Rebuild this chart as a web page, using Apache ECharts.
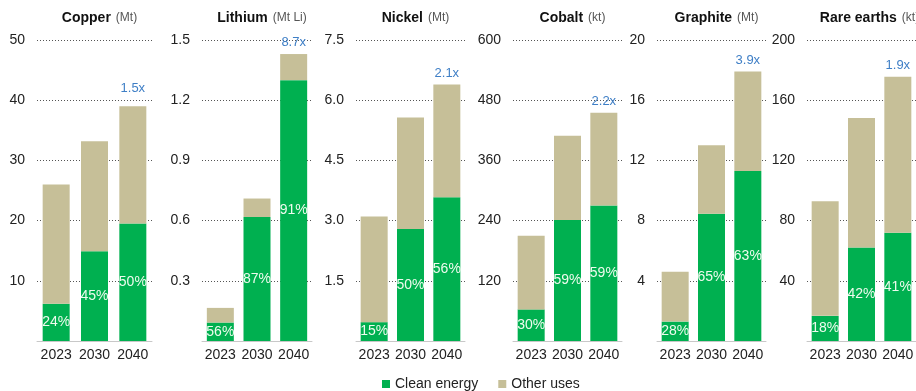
<!DOCTYPE html>
<html>
<head>
<meta charset="utf-8">
<script src="https://cdn.jsdelivr.net/npm/echarts@6/dist/echarts.min.js"></script>
<style>
  html, body { margin: 0; padding: 0; background: #ffffff; }
  #chart { width: 916px; height: 391px; }
</style>
</head>
<body>
<div id="chart"></div>
<script>
// Demand by end use for key energy-transition minerals
const years = ['2023', '2030', '2040'];
const minerals = ['Copper', 'Lithium', 'Nickel', 'Cobalt', 'Graphite', 'Rare earths'];
const units = ['(Mt)', '(Mt Li)', '(Mt)', '(kt)', '(Mt)', '(kt)'];

const cleanEnergy = [
  [6.2, 14.9, 19.5],
  [0.092, 0.618, 1.30],
  [0.47, 2.79, 3.58],
  [63, 241, 270],
  [1.29, 8.45, 11.3],
  [16.7, 62.2, 72.0]
];
const otherUses = [
  [19.8, 18.3, 19.5],
  [0.073, 0.092, 0.13],
  [2.63, 2.78, 2.81],
  [147, 168, 185],
  [3.31, 4.55, 6.6],
  [76.1, 86.0, 103.6]
];
const shareLabels = [
  ['24%', '45%', '50%'],
  ['56%', '87%', '91%'],
  ['15%', '50%', '56%'],
  ['30%', '59%', '59%'],
  ['28%', '65%', '63%'],
  ['18%', '42%', '41%']
];
const growthLabels = ['1.5x', '8.7x', '2.1x', '2.2x', '3.9x', '1.9x'];

const yMax = [50, 1.5, 7.5, 600, 20, 200];
const yStep = [10, 0.3, 1.5, 120, 4, 40];
const yDecimals = [0, 1, 1, 0, 0, 0];

// panel layout (pixels)
const panelLeft = [37, 202, 356, 513, 657, 807];
const panelWidth = [115, 110, 109, 109, 109, 115];
const growthGap = [11, 5, 5, 5, 5, 5];

const GREEN = '#00b050';
const TAN = '#c6bf98';
const FONT = 'Liberation Sans, Arial, sans-serif';

const grids = [], xAxes = [], yAxes = [], titles = [], series = [];

minerals.forEach((name, i) => {
  grids.push({ left: panelLeft[i], width: panelWidth[i], top: 40, bottom: 50, containLabel: false });

  titles.push({
    text: '{b|' + name + '} {u|' + units[i] + '}',
    left: panelLeft[i] + panelWidth[i] / 2,
    textAlign: 'center',
    top: 4,
    textStyle: {
      fontWeight: 'normal',
      rich: {
        b: { fontFamily: FONT, fontWeight: 'bold', fontSize: 14, color: '#111' },
        u: { fontFamily: FONT, fontWeight: 'normal', fontSize: 12, color: '#555' }
      }
    }
  });

  xAxes.push({
    type: 'category',
    gridIndex: i,
    data: years,
    axisLine: { show: true, lineStyle: { color: '#c8c8c8', width: 1 } },
    axisTick: { show: false },
    axisLabel: { interval: 0, hideOverlap: false, fontFamily: FONT, fontSize: 14, color: '#222', margin: 7 }
  });

  yAxes.push({
    type: 'value',
    gridIndex: i,
    min: 0,
    max: yMax[i],
    interval: yStep[i],
    axisLine: { show: false },
    axisTick: { show: false },
    axisLabel: {
      showMinLabel: false,
      fontFamily: FONT, fontSize: 14, color: '#222', margin: 12,
      formatter: v => v.toFixed(yDecimals[i])
    },
    splitLine: { show: true, lineStyle: { type: [1, 2], color: '#555', width: 1 } }
  });

  series.push({
    name: 'Clean energy',
    type: 'bar',
    stack: 'm' + i,
    xAxisIndex: i,
    yAxisIndex: i,
    barWidth: 27,
    data: cleanEnergy[i],
    itemStyle: { color: GREEN },
    label: {
      show: true,
      position: 'inside',
      fontFamily: FONT,
      fontSize: 14,
      color: '#eefbee',
      formatter: p => shareLabels[i][p.dataIndex]
    },
    emphasis: { disabled: true },
    z: 3
  });

  series.push({
    name: 'Other uses',
    type: 'bar',
    stack: 'm' + i,
    xAxisIndex: i,
    yAxisIndex: i,
    barWidth: 27,
    data: otherUses[i],
    itemStyle: { color: TAN },
    label: {
      show: true,
      position: 'top',
      distance: growthGap[i],
      fontFamily: FONT,
      fontSize: 13,
      color: '#3f7fc6',
      formatter: p => (p.dataIndex === years.length - 1 ? growthLabels[i] : '')
    },
    emphasis: { disabled: true },
    z: 3
  });
});

const chart = echarts.init(document.getElementById('chart'), null, { renderer: 'canvas' });
chart.setOption({
  animation: false,
  backgroundColor: '#ffffff',
  title: titles,
  grid: grids,
  xAxis: xAxes,
  yAxis: yAxes,
  legend: {
    data: ['Clean energy', 'Other uses'],
    left: 377,
    top: 372,
    icon: 'rect',
    itemWidth: 8,
    itemHeight: 8,
    itemGap: 20,
    textStyle: { fontFamily: FONT, fontSize: 14, color: '#222' }
  },
  series: series
});
</script>
</body>
</html>
